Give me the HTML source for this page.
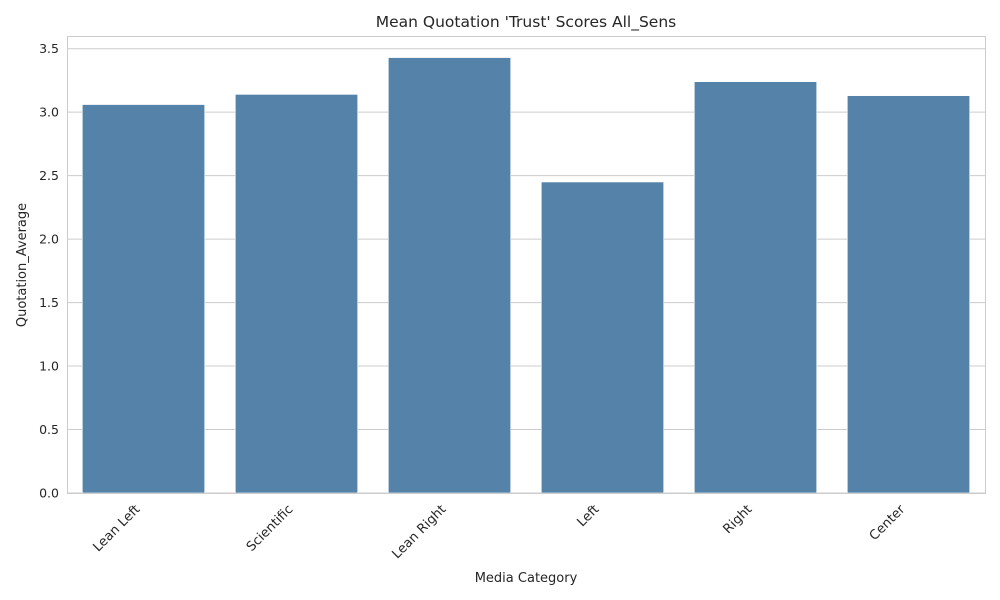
<!DOCTYPE html>
<html><head><meta charset="utf-8"><style>
body{margin:0;background:#fff;}
svg{display:block;font-family:"DejaVu Sans","Liberation Sans",sans-serif;}
</style></head><body>
<svg id="chart" width="1000" height="600">
<text x="526" y="27" text-anchor="middle" font-size="15.5" fill="#262626">Mean Quotation 'Trust' Scores All_Sens</text>
<text x="526" y="582" text-anchor="middle" font-size="13" fill="#262626">Media Category</text>
<text transform="translate(26,265) rotate(-90)" text-anchor="middle" font-size="13" fill="#262626">Quotation_Average</text>
<g id="grid"></g><g id="bars"></g><g id="xt"></g>
<rect x="67.5" y="36.5" width="918" height="457" fill="none" stroke="#cccccc"/>
</svg>
<script>
const categories=["Lean Left","Scientific","Lean Right","Left","Right","Center"];
const values=[3.06,3.14,3.43,2.45,3.24,3.13];
const yTicks=[0,0.5,1,1.5,2,2.5,3,3.5];
const yTickLabels=["0.0","0.5","1.0","1.5","2.0","2.5","3.0","3.5"];
const NS="http://www.w3.org/2000/svg";
const L=67,R=985,T=36,B=493,yMax=3.6;
const y=v=>B-(v/yMax)*(B-T);
const band=(R-L)/categories.length;
const xc=i=>L+band*(i+0.5);
function mk(t,a,p){const e=document.createElementNS(NS,t);for(const k in a)e.setAttribute(k,a[k]);p.appendChild(e);return e;}
const g=document.getElementById('grid');
yTicks.forEach((v,i)=>{
 const l=mk('line',{x1:L,x2:R,y1:y(v),y2:y(v),stroke:'#cccccc'},g);
 
 
 const t=mk('text',{x:L-8,y:y(v)+4.5,'text-anchor':'end','font-size':'12.5',fill:'#262626'},g);
 t.textContent=yTickLabels[i];
 
 
});
const bg=document.getElementById('bars'),xg=document.getElementById('xt');
const bw=band*0.8;
values.forEach((v,i)=>{
 const r=mk('rect',{x:xc(i)-bw/2,y:y(v),width:bw,height:B-y(v),fill:'#5482a9',stroke:'#ffffff','stroke-width':0.6},bg);
 
 
 const t=mk('text',{transform:`translate(${xc(i)-3},${B+17}) rotate(-45)`,'text-anchor':'end','font-size':'13',fill:'#262626'},xg);
 t.textContent=categories[i];
 
 
});
</script>
</body></html>
